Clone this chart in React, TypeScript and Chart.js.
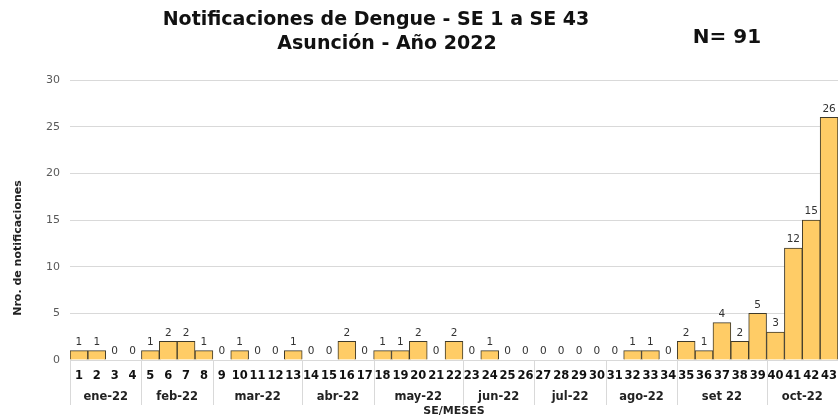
import React, { useEffect, useRef } from "react";
import { Chart, registerables } from "chart.js";

Chart.register(...registerables);

const weeks: string[] = [
  "1","2","3","4","5","6","7","8","9","10","11","12","13","14","15","16","17","18","19","20","21","22",
  "23","24","25","26","27","28","29","30","31","32","33","34","35","36","37","38","39","40","41","42","43",
];
const cases: number[] = [
  1, 1, 0, 0, 1, 2, 2, 1, 0, 1, 0, 0, 1, 0, 0, 2, 0, 1, 1, 2, 0, 2,
  0, 1, 0, 0, 0, 0, 0, 0, 0, 1, 1, 0, 2, 1, 4, 2, 5, 3, 12, 15, 26,
];
const monthLabels: string[] = ["ene-22", "feb-22", "mar-22", "abr-22", "may-22", "jun-22", "jul-22", "ago-22", "set 22", "oct-22"];
const monthWeekCounts: number[] = [4, 4, 5, 4, 5, 4, 4, 4, 5, 4];
const yTicks: number[] = [0, 5, 10, 15, 20, 25, 30];

const titleLine1 = "Notificaciones de Dengue - SE 1 a SE 43";
const titleLine2 = "Asunción - Año 2022";
const totalLabel = "N= 91";
const yTitle = "Nro. de notificaciones";
const xTitle = "SE/MESES";

const FONT = "'DejaVu Sans', Verdana, sans-serif";

const decorPlugin = {
  id: "decor",
  afterDatasetsDraw(chart: any) {
    const ctx = chart.ctx;
    const x = chart.scales.x;
    const area = chart.chartArea;
    ctx.save();
    // data labels
    ctx.font = `10.5px ${FONT}`;
    ctx.fillStyle = "#333333";
    ctx.textAlign = "center";
    ctx.textBaseline = "bottom";
    const meta = chart.getDatasetMeta(0);
    meta.data.forEach((bar: any, i: number) => {
      ctx.fillText(String(cases[i]), bar.x, bar.y - 3);
    });
    // month labels & separators
    const half = (x.getPixelForValue(1) - x.getPixelForValue(0)) / 2;
    ctx.strokeStyle = "#d9d9d9";
    ctx.lineWidth = 1;
    let idx = 0;
    const sepTop = area.bottom;
    const sepBottom = area.bottom + 45;
    const drawSep = (px: number) => {
      ctx.beginPath();
      ctx.moveTo(Math.round(px) + 0.5, sepTop);
      ctx.lineTo(Math.round(px) + 0.5, sepBottom);
      ctx.stroke();
    };
    ctx.font = `bold 11.5px ${FONT}`;
    ctx.fillStyle = "#222222";
    ctx.textBaseline = "middle";
    monthLabels.forEach((m, k) => {
      const start = x.getPixelForValue(idx) - half;
      const end = x.getPixelForValue(idx + monthWeekCounts[k] - 1) + half;
      drawSep(start);
      ctx.fillText(m, (start + end) / 2, area.bottom + 37);
      idx += monthWeekCounts[k];
    });
    // x title
    ctx.font = `bold 11px ${FONT}`;
    ctx.fillText(xTitle, (area.left + area.right) / 2, area.bottom + 51);
    // y title
    ctx.save();
    ctx.translate(18, 248);
    ctx.rotate(-Math.PI / 2);
    ctx.font = `bold 11px ${FONT}`;
    ctx.fillText(yTitle, 0, 0);
    ctx.restore();
    // titles
    ctx.fillStyle = "#111111";
    ctx.font = `bold 19px ${FONT}`;
    ctx.fillText(titleLine1, 376, 20);
    ctx.fillText(titleLine2, 387, 44);
    ctx.font = `bold 20px ${FONT}`;
    ctx.fillText(totalLabel, 727, 38);
    ctx.restore();
  },
};

export default function App() {
  const ref = useRef<HTMLCanvasElement>(null);
  useEffect(() => {
    if (!ref.current) return;
    const chart = new Chart(ref.current, {
      type: "bar",
      data: {
        labels: weeks,
        datasets: [
          {
            data: cases,
            backgroundColor: "#FFCC66",
            borderColor: "#3f3a2a",
            borderWidth: 1,
            barPercentage: 1,
            categoryPercentage: 1,
          },
        ],
      },
      options: {
        animation: false,
        responsive: false,
        layout: { padding: { top: 80, right: 0, left: 0, bottom: 0 } },
        plugins: { legend: { display: false }, tooltip: { enabled: false }, title: { display: false } },
        scales: {
          x: {
            offset: true,
            grid: { display: false, drawTicks: false },
            border: { display: true, color: "#d9d9d9", width: 1 },
            ticks: {
              autoSkip: false,
              maxRotation: 0,
              padding: 9,
              color: "#111111",
              font: { family: FONT, size: 11.5, weight: "bold" },
            },
            afterFit(scale: any) {
              scale.height = 58;
              scale.paddingLeft = 0;
              scale.paddingRight = 0;
            },
          },
          y: {
            min: 0,
            max: 30,
            afterBuildTicks(scale: any) {
              scale.ticks = yTicks.map((v) => ({ value: v }));
            },
            grid: { color: "#d9d9d9", lineWidth: 1, drawTicks: false },
            border: { display: false },
            ticks: {
              padding: 10,
              color: "#595959",
              font: { family: FONT, size: 11 },
            },
            afterFit(scale: any) {
              scale.width = 70;
            },
          },
        },
      },
      plugins: [decorPlugin],
    });
    return () => chart.destroy();
  }, []);
  return (
    <div style={{ position: "absolute", left: 0, top: 0, width: 838, height: 418, background: "#fff" }}>
      <canvas ref={ref} width={838} height={418} style={{ display: "block" }} />
    </div>
  );
}
